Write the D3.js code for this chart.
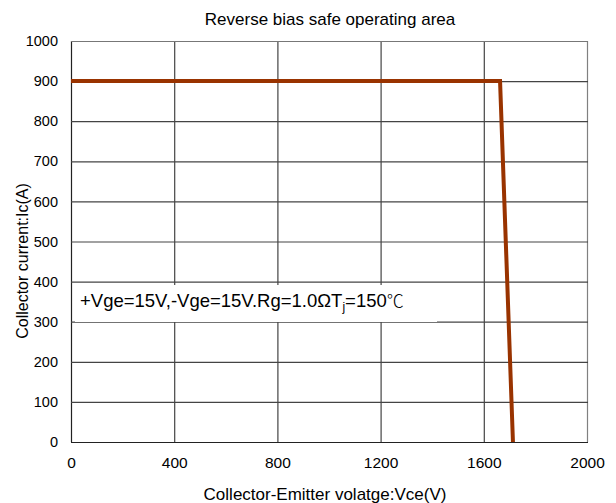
<!DOCTYPE html>
<html>
<head>
<meta charset="utf-8">
<script src="https://cdn.jsdelivr.net/npm/d3@7"></script>
<style>
  html, body { margin: 0; padding: 0; background: #fff; }
  svg text { font-family: "Liberation Sans", Arial, sans-serif; fill: #000; }
</style>
</head>
<body>
<svg id="chart" width="616" height="503"></svg>
<script>
// RBSOA boundary: collector-emitter voltage (V) vs. collector current (A)
const vceValues = [0, 1663, 1713];
const icValues = [900, 900, 0];
const xTicks = [0, 400, 800, 1200, 1600, 2000];
const yTicks = [0, 100, 200, 300, 400, 500, 600, 700, 800, 900, 1000];
const titleText = "Reverse bias safe operating area";
const xLabel = "Collector-Emitter volatge:Vce(V)";
const yLabel = "Collector current:Ic(A)";

const svg = d3.select("#chart");
const m = { left: 71, right: 587, top: 41, bottom: 442 };

const x = d3.scaleLinear().domain([0, 2000]).range([m.left, m.right]);
const y = d3.scaleLinear().domain([0, 1000]).range([m.bottom, m.top]);

// grid
const grid = svg.append("g");
grid.selectAll("line.v").data(xTicks).join("line")
  .attr("x1", d => x(d) + 0.5).attr("x2", d => x(d) + 0.5)
  .attr("y1", m.top).attr("y2", m.bottom)
  .attr("stroke", d => d === 2000 ? "#808080" : (d === 0 ? "#222" : "#444"))
  .attr("stroke-width", 1.2);
grid.selectAll("line.h").data(yTicks).join("line")
  .attr("x1", m.left).attr("x2", m.right + 1)
  .attr("y1", d => y(d) + 0.5).attr("y2", d => y(d) + 0.5)
  .attr("stroke", d => d === 1000 ? "#777" : (d === 0 ? "#222" : "#444"))
  .attr("stroke-width", 1.2);

// annotation backdrop
svg.append("rect")
  .attr("x", 75).attr("y", 285).attr("width", 362).attr("height", 37)
  .attr("fill", "#fff");

// tick labels from d3 axes (no domain/tick lines)
const xAxis = svg.append("g").attr("transform", `translate(0,${m.bottom})`)
  .call(d3.axisBottom(x).tickValues(xTicks).tickSize(0).tickPadding(15).tickFormat(d3.format("d")));
xAxis.select(".domain").remove();
xAxis.selectAll("text").attr("font-size", 15.5).attr("fill", "#000")
  .style("font-family", "Liberation Sans, Arial, sans-serif");

const yAxis = svg.append("g").attr("transform", `translate(${m.left},0)`)
  .call(d3.axisLeft(y).tickValues(yTicks).tickSize(0).tickPadding(13).tickFormat(d3.format("d")));
yAxis.select(".domain").remove();
yAxis.selectAll("text").attr("font-size", 14.5).attr("fill", "#000")
  .style("font-family", "Liberation Sans, Arial, sans-serif");

// boundary line
const pts = vceValues.map((v, i) => [v, icValues[i]]);
svg.append("path")
  .datum(pts)
  .attr("d", d3.line().x(d => x(d[0])).y(d => y(d[1])))
  .attr("fill", "none")
  .attr("stroke", "#993300")
  .attr("stroke-width", 4)
  .attr("stroke-linejoin", "miter");

// annotation
const ann = svg.append("text").attr("x", 80).attr("y", 307).attr("font-size", 18.5);
ann.append("tspan").text("+Vge=15V,-Vge=15V.Rg=1.0\u03A9T");
ann.append("tspan").attr("font-size", 12).attr("dy", 4).text("j");
ann.append("tspan").attr("dy", -4).text("=150");
ann.append("tspan").attr("font-size", 17).style("font-family", "Noto Sans CJK SC, sans-serif")
  .attr("font-weight", 300).text("\u2103");

// titles
svg.append("text").attr("x", 330).attr("y", 25).attr("text-anchor", "middle")
  .attr("font-size", 17).text(titleText);
svg.append("text").attr("x", 325).attr("y", 500).attr("text-anchor", "middle")
  .attr("font-size", 17).text(xLabel);
svg.append("text").attr("transform", "translate(28,261) rotate(-90)")
  .attr("text-anchor", "middle").attr("font-size", 16).text(yLabel);
</script>
</body>
</html>
